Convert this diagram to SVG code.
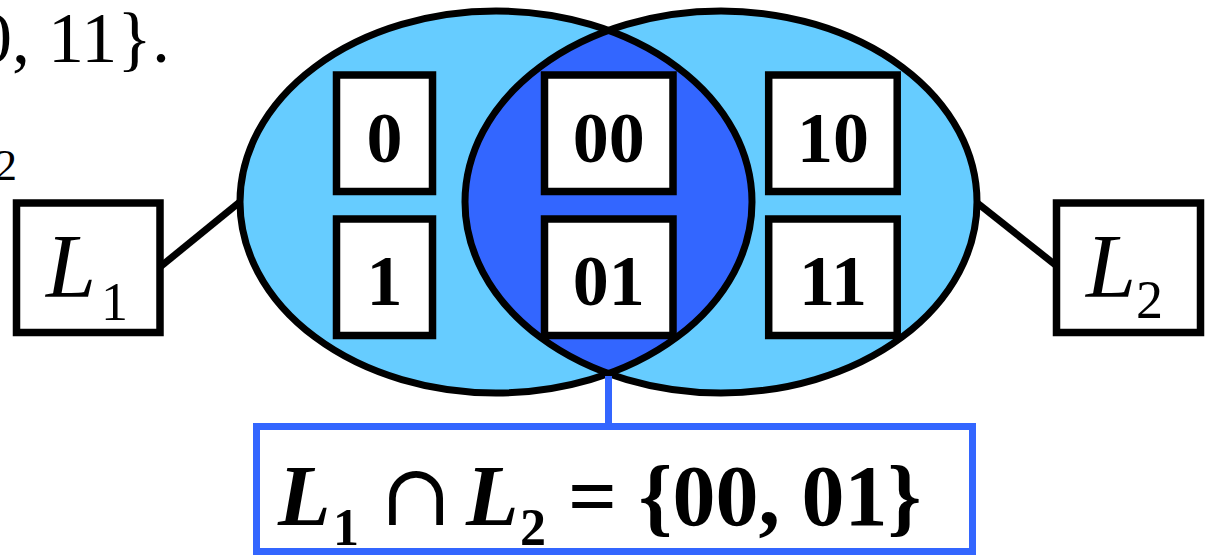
<svg xmlns="http://www.w3.org/2000/svg" width="1206" height="555" viewBox="0 0 1206 555">
<style>
.box{fill:#fff;stroke:#000;stroke-width:7.5}
.elfill{fill:#66CCFF}
.eloutline{fill:none;stroke:#000;stroke-width:7}
.conn{stroke:#000;stroke-width:7;fill:none}
.digit{font-family:"Liberation Serif","Times New Roman",serif;font-weight:bold;font-size:72px;text-anchor:middle;fill:#000}
.lab{font-family:"Liberation Serif","Times New Roman",serif;font-style:italic;fill:#000}
.sub{font-family:"Liberation Serif","Times New Roman",serif;fill:#000}
.bg{font-family:"Liberation Serif","Times New Roman",serif;fill:#000}
</style>
<defs>
<clipPath id="clipR"><ellipse cx="721" cy="202" rx="256" ry="191"/></clipPath>
</defs>
<rect width="1206" height="555" fill="#fff"/>
<g id="background-text">
<text class="bg" x="-24" y="62" font-size="72">0, 11}.</text>
<text class="bg" x="-5" y="180" font-size="44">2</text>
</g>
<g id="venn">
<ellipse class="elfill" cx="496" cy="202" rx="256" ry="191"/>
<ellipse class="elfill" cx="721" cy="202" rx="256" ry="191"/>
<ellipse cx="496" cy="202" rx="256" ry="191" fill="#3366FF" clip-path="url(#clipR)"/>
<ellipse class="eloutline" cx="496" cy="202" rx="256" ry="191"/>
<ellipse class="eloutline" cx="721" cy="202" rx="256" ry="191"/>
</g>
<g id="connectors">
<line class="conn" x1="160" y1="267" x2="241" y2="201"/>
<line class="conn" x1="976" y1="202" x2="1058" y2="267"/>
<line x1="608.5" y1="376" x2="608.5" y2="427" stroke="#3366FF" stroke-width="7"/>
</g>
<g id="n-0"><rect class="box" x="336.5" y="75" width="96" height="116.5"/><text class="digit" x="384.5" y="162">0</text></g>
<g id="n-1"><rect class="box" x="336.5" y="219" width="96" height="116.5"/><text class="digit" x="384.5" y="305">1</text></g>
<g id="n-00"><rect class="box" x="544.5" y="75" width="128.5" height="116.5"/><text class="digit" x="608.8" y="162">00</text></g>
<g id="n-01"><rect class="box" x="544.5" y="219" width="128.5" height="116.5"/><text class="digit" x="608.8" y="305">01</text></g>
<g id="n-10"><rect class="box" x="768.7" y="75" width="128.5" height="116.5"/><text class="digit" x="833" y="162">10</text></g>
<g id="n-11"><rect class="box" x="768.7" y="219" width="128.5" height="116.5"/><text class="digit" x="833" y="305">11</text></g>
<g id="n-L1"><rect class="box" x="16.5" y="203" width="143.5" height="129.5"/>
<text class="lab" x="46" y="297" font-size="90">L</text><text class="sub" x="101" y="320" font-size="54">1</text></g>
<g id="n-L2"><rect class="box" x="1056.5" y="203" width="144" height="129.5"/>
<text class="lab" x="1086" y="297" font-size="90">L</text><text class="sub" x="1136" y="318" font-size="54">2</text></g>
<g id="n-result"><rect x="256.5" y="426.5" width="716" height="125" fill="#fff" stroke="#3366FF" stroke-width="7"/>
<text font-family="Liberation Serif,'Times New Roman',serif" font-weight="bold" fill="#000">
<tspan x="278" y="525" font-size="86" font-style="italic">L</tspan>
<tspan x="333" y="545" font-size="52">1</tspan>
<tspan x="380" y="525" font-size="86" font-weight="normal" font-family="DejaVu Serif,serif">∩</tspan>
<tspan x="466" y="525" font-size="86" font-style="italic">L</tspan>
<tspan x="520" y="545" font-size="52">2</tspan>
<tspan x="568" y="525" font-size="86">= {00, 01}</tspan>
</text></g>
</svg>
